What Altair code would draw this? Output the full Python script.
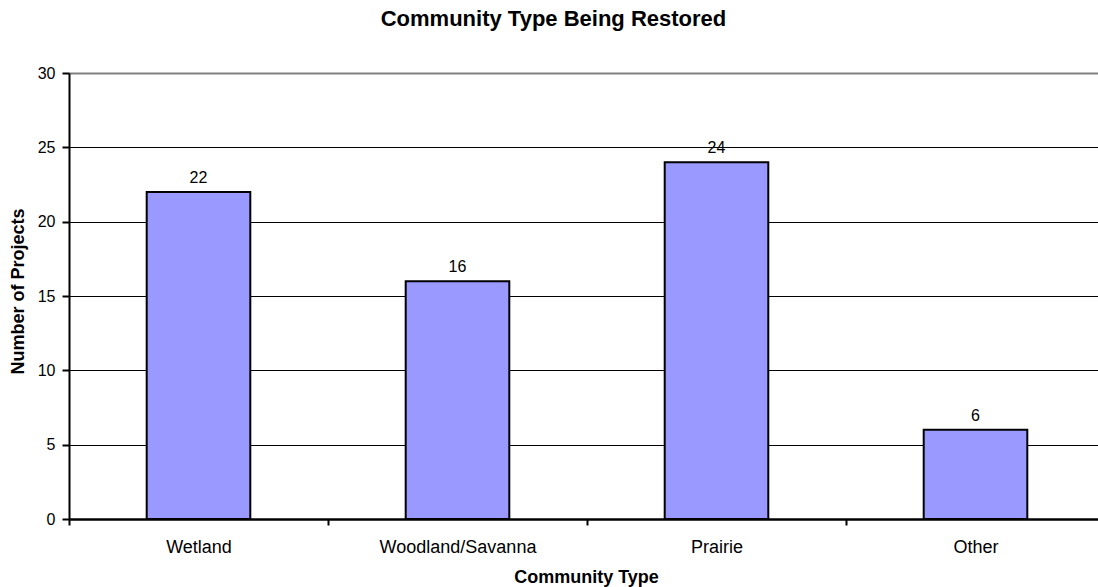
import altair as alt
import pandas as pd

# Restoration projects by community type
community_types = ["Wetland", "Woodland/Savanna", "Prairie", "Other"]
project_counts = [22, 16, 24, 6]

df = pd.DataFrame({"Community Type": community_types, "Projects": project_counts})

FONT = "Liberation Sans"

x_enc = alt.X(
    "Community Type:N",
    sort=community_types,
    scale=alt.Scale(range=[0, 1036], paddingInner=0, paddingOuter=0),
    axis=alt.Axis(
        title="Community Type",
        titleFont=FONT,
        titleFontSize=18,
        titleFontWeight="bold",
        titleColor="black",
        titlePadding=12,
        titleX=517,
        labelFont=FONT,
        labelFontSize=18,
        labelColor="black",
        labelPadding=13,
        labelAngle=0,
        tickBand="extent",
        tickSize=6,
        tickWidth=2,
        tickColor="black",
        domainColor="black",
        domainWidth=2.5,
        grid=False,
    ),
)

y_enc = alt.Y(
    "Projects:Q",
    scale=alt.Scale(domain=[0, 30], nice=False),
    axis=alt.Axis(
        title="Number of Projects",
        titleFont=FONT,
        titleFontSize=18,
        titleFontWeight="bold",
        titleColor="black",
        titlePadding=10,
        titleY=218,
        values=[0, 5, 10, 15, 20, 25, 30],
        labelFont=FONT,
        labelFontSize=16,
        labelColor="black",
        labelPadding=7,
        tickSize=7,
        tickWidth=2,
        tickColor="black",
        domainColor="black",
        domainWidth=2,
        grid=True,
        gridColor=alt.condition(alt.datum.value == 30, alt.value("#808080"), alt.value("black")),
        gridWidth=alt.condition(alt.datum.value == 30, alt.value(2), alt.value(1.2)),
        gridOpacity=1,
    ),
)

bars = alt.Chart(df).mark_bar(
    color="#9999FF", stroke="black", strokeWidth=2, width={"band": 0.4}
).encode(x=x_enc, y=y_enc)

labels = alt.Chart(df).mark_text(
    font=FONT, fontSize=16, color="black", baseline="alphabetic", dy=-9
).encode(
    x=alt.X("Community Type:N", sort=community_types),
    y="Projects:Q",
    text="Projects:Q",
)

chart = (
    alt.layer(bars, labels)
    .properties(
        width=1029,
        height=446,
        autosize=alt.AutoSizeParams(type="none"),
        padding={"left": 69, "top": 73, "right": 0, "bottom": 68},
        title=alt.TitleParams(
            "Community Type Being Restored",
            font=FONT,
            fontSize=22,
            fontWeight="bold",
            color="black",
            anchor="middle",
            frame="group",
            dx=-30,
            offset=34,
        ),
    )
    .configure_view(stroke=None)
    .configure(background="white")
)

chart.save("out.html", embed_options={"renderer": "svg", "actions": False})
